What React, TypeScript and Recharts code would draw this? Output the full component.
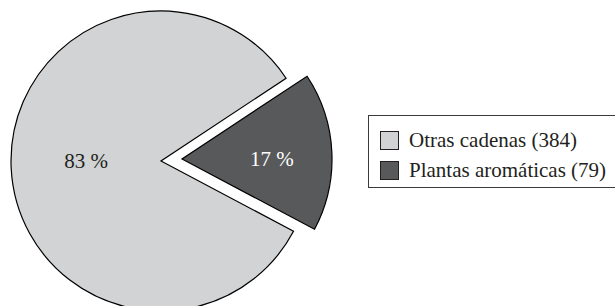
import { PieChart, Pie, Cell, Legend } from "recharts";

// ---------------------------------------------------------------------------
// Data
// ---------------------------------------------------------------------------
const categories = ["Otras cadenas", "Plantas aromáticas"];
const counts = [384, 79];
const colors = ["#d1d3d4", "#58595b"];
const labelColors = ["#231f20", "#ffffff"];

const data = categories.map((name, i) => ({ name, value: counts[i] }));

const RADIAN = Math.PI / 180;
const FONT = "'Liberation Serif', 'DejaVu Serif', serif";

// ---------------------------------------------------------------------------
// Label: percentage, drawn only for the slice that the pie shows
// ---------------------------------------------------------------------------
function makeLabel(show: number, k: number) {
  return function PctLabel(props: any) {
    const { cx, cy, midAngle, outerRadius, percent, index } = props;
    if (index !== show) return null;
    const x = cx + outerRadius * k * Math.cos(-midAngle * RADIAN);
    return (
      <text
        x={x}
        y={cy}
        textAnchor="middle"
        dominantBaseline="central"
        fill={labelColors[index]}
        fontSize={21}
        fontFamily={FONT}
      >
        {`${Math.round(percent * 100)} %`}
      </text>
    );
  };
}

// ---------------------------------------------------------------------------
// Legend (boxed, right side)
// ---------------------------------------------------------------------------
function BoxLegend() {
  return (
    <div
      style={{
        border: "1px solid #3a3a3a",
        width: 260,
        height: 73,
        boxSizing: "border-box",
        padding: "9px 0 0 11px",
        fontFamily: FONT,
        fontSize: 21,
        color: "#231f20",
      }}
    >
      {categories.map((c, i) => (
        <div
          key={c}
          style={{ display: "flex", alignItems: "center", height: 30 }}
        >
          <span
            style={{
              display: "inline-block",
              width: 17,
              height: 17,
              background: colors[i],
              border: "1px solid #231f20",
              marginRight: 10,
            }}
          />
          <span style={{ whiteSpace: "nowrap" }}>{`${c} (${counts[i]})`}</span>
        </div>
      ))}
    </div>
  );
}

export default function App() {
  return (
    <div style={{ position: "absolute", left: 0, top: 0, background: "#fff" }}>
      <PieChart
        width={615}
        height={306}
        margin={{ top: 0, right: 0, bottom: 0, left: 0 }}
      >
        {/* main slice */}
        <Pie
          data={data}
          dataKey="value"
          cx={161}
          cy={161}
          outerRadius={150}
          startAngle={33.5}
          endAngle={393.5}
          label={makeLabel(0, 0.5)}
          labelLine={false}
          isAnimationActive={false}
        >
          {data.map((d, i) => (
            <Cell
              key={d.name}
              fill={i === 0 ? colors[0] : "none"}
              stroke={i === 0 ? "#000" : "none"}
              strokeWidth={1.2}
            />
          ))}
        </Pie>
        {/* exploded slice */}
        <Pie
          data={data}
          dataKey="value"
          cx={182}
          cy={159}
          outerRadius={150}
          startAngle={33.5}
          endAngle={393.5}
          label={makeLabel(1, 0.6)}
          labelLine={false}
          isAnimationActive={false}
        >
          {data.map((d, i) => (
            <Cell
              key={d.name}
              fill={i === 1 ? colors[1] : "none"}
              stroke={i === 1 ? "#000" : "none"}
              strokeWidth={1.2}
            />
          ))}
        </Pie>
        <Legend
          content={() => <BoxLegend />}
          wrapperStyle={{ left: 368, top: 115, width: 260 }}
        />
      </PieChart>
    </div>
  );
}
